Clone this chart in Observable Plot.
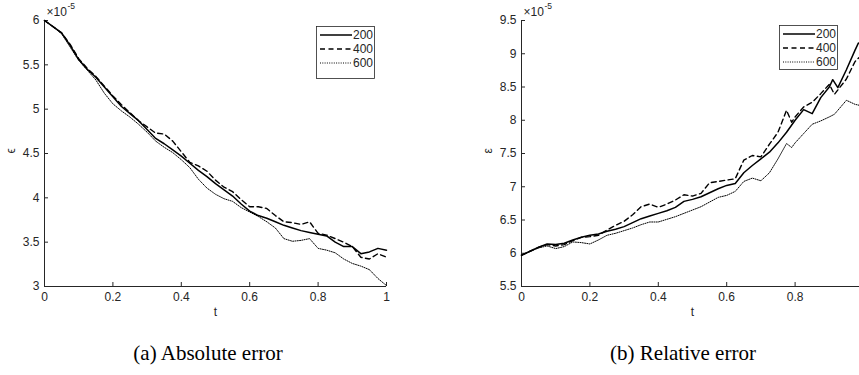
<!DOCTYPE html>
<html><head><meta charset="utf-8">
<script src="https://cdn.jsdelivr.net/npm/d3@7"></script>
<script src="https://cdn.jsdelivr.net/npm/@observablehq/plot@0.6"></script>
<style>
html,body{margin:0;padding:0;background:#fff;overflow:hidden;}
#wrap{position:relative;width:859px;height:375px;overflow:hidden;background:#fff;}
.panel{position:absolute;top:0;}
.cap{position:absolute;top:341px;font-family:"Liberation Serif","Times New Roman",serif;font-size:21px;line-height:24px;color:#000;white-space:nowrap;transform:translateX(-50%);}
</style></head><body><div id="wrap"></div>
<script>
// ---------------- data ----------------
const seriesNames = ["200", "400", "600"];
const xTicks = [0, 0.2, 0.4, 0.6, 0.8, 1];
const absXLabels = [0, 0.2, 0.4, 0.6, 0.8, 1];
const relXLabels = [0, 0.2, 0.4, 0.6, 0.8];   // the "1" label falls outside the picture
const absYTicks = [3, 3.5, 4, 4.5, 5, 5.5, 6];
const relYTicks = [5.5, 6, 6.5, 7, 7.5, 8, 8.5, 9, 9.5];
const captions = ["(a) Absolute error", "(b) Relative error"];

const absT = [0,0.025,0.05,0.075,0.1,0.125,0.15,0.175,0.2,0.225,0.25,0.275,0.3,0.325,0.35,0.375,0.4,0.425,0.45,0.475,0.5,0.525,0.55,0.575,0.6,0.625,0.65,0.675,0.7,0.725,0.75,0.775,0.8,0.825,0.85,0.875,0.9,0.925,0.95,0.975,1.0];
const abs200 = [6.00,5.93,5.86,5.72,5.56,5.45,5.36,5.25,5.14,5.03,4.95,4.87,4.77,4.67,4.61,4.54,4.47,4.39,4.31,4.24,4.16,4.09,4.02,3.93,3.85,3.80,3.77,3.73,3.69,3.66,3.63,3.61,3.59,3.57,3.50,3.45,3.45,3.37,3.39,3.43,3.41];
const abs400 = [6.00,5.93,5.86,5.73,5.57,5.46,5.37,5.26,5.15,5.05,4.96,4.87,4.80,4.73,4.72,4.64,4.52,4.40,4.36,4.30,4.20,4.12,4.07,3.98,3.90,3.90,3.88,3.80,3.73,3.72,3.70,3.73,3.60,3.58,3.54,3.50,3.45,3.33,3.31,3.37,3.33];
const abs600 = [6.00,5.93,5.85,5.70,5.55,5.44,5.33,5.18,5.06,4.98,4.91,4.83,4.74,4.64,4.57,4.51,4.43,4.34,4.21,4.11,4.04,3.99,3.96,3.89,3.84,3.79,3.73,3.66,3.54,3.51,3.52,3.54,3.43,3.41,3.38,3.31,3.26,3.23,3.19,3.09,3.01];

const rel200T = [0,0.025,0.05,0.075,0.1,0.125,0.15,0.175,0.2,0.225,0.25,0.275,0.3,0.325,0.35,0.375,0.4,0.425,0.45,0.475,0.5,0.525,0.55,0.575,0.6,0.625,0.65,0.675,0.7,0.725,0.75,0.775,0.8,0.825,0.85,0.875,0.9,0.91,0.925,0.95,0.975,0.985,1.0];
const rel200 = [5.97,6.03,6.09,6.14,6.13,6.15,6.20,6.24,6.27,6.29,6.33,6.36,6.40,6.46,6.52,6.56,6.60,6.64,6.69,6.78,6.81,6.85,6.91,6.97,7.02,7.05,7.21,7.32,7.42,7.52,7.66,7.82,8.00,8.16,8.10,8.34,8.50,8.61,8.49,8.76,9.05,9.16,9.15];
const rel400T = [0,0.025,0.05,0.075,0.1,0.125,0.15,0.175,0.2,0.225,0.25,0.275,0.3,0.325,0.35,0.375,0.4,0.425,0.45,0.475,0.5,0.525,0.55,0.575,0.6,0.625,0.65,0.675,0.7,0.725,0.75,0.775,0.79,0.8,0.825,0.85,0.875,0.9,0.915,0.95,0.975,1.0];
const rel400 = [5.97,6.03,6.09,6.13,6.11,6.13,6.19,6.24,6.25,6.27,6.35,6.42,6.48,6.58,6.70,6.74,6.69,6.74,6.80,6.88,6.86,6.90,7.06,7.08,7.10,7.12,7.40,7.47,7.45,7.64,7.82,8.15,7.97,8.05,8.20,8.27,8.40,8.54,8.39,8.62,8.88,9.01];
const rel600T = rel400T;
const rel600 = [5.97,6.03,6.08,6.11,6.07,6.10,6.17,6.16,6.14,6.20,6.27,6.30,6.34,6.38,6.43,6.47,6.47,6.51,6.55,6.60,6.65,6.70,6.77,6.84,6.87,6.93,7.08,7.13,7.09,7.21,7.42,7.65,7.59,7.66,7.80,7.94,7.99,8.05,8.09,8.30,8.24,8.21];

// ---------------- drawing ----------------
const FONT = "'Liberation Sans', Arial, Helvetica, sans-serif";
const INK = "#262626";
const styles = [
  {strokeWidth: 1.5, strokeDasharray: null},
  {strokeWidth: 1.4, strokeDasharray: "5,3.5"},
  {strokeWidth: 1.0, strokeDasharray: "1,1.3"}
];
const W = 430, H = 330, ML = 44, MR = 44, MT = 20, MB = 44;

function toRows(ts, vs) { return ts.map((t, i) => ({t, v: vs[i]})); }

function panel(tsList, vsList, yTicks, xLabels, ylabel, leftPx) {
  const y0 = yTicks[0], y1 = yTicks[yTicks.length - 1];
  const tickY = (y1 - y0) * 4 / (H - MT - MB);
  const tickX = 4 / (W - ML - MR);
  const lines = tsList.map((ts, i) => Plot.line(toRows(ts, vsList[i]), {
    x: "t", y: "v", stroke: "black", strokeWidth: styles[i].strokeWidth,
    strokeDasharray: styles[i].strokeDasharray, curve: "linear"
  }));
  const plot = Plot.plot({
    width: W, height: H, marginLeft: ML, marginRight: MR, marginTop: MT, marginBottom: MB,
    x: {domain: [0, 1]},
    y: {domain: [y0, y1]},
    style: {fontFamily: FONT, fontSize: "12px", color: INK, background: "white", overflow: "visible"},
    marks: [
      Plot.ruleX(xTicks, {x: d => d, y1: y0, y2: y0 + tickY, stroke: INK}),
      Plot.ruleY(yTicks, {y: d => d, x1: 0, x2: tickX, stroke: INK}),
      Plot.axisX({ticks: xLabels, tickSize: 0, tickPadding: 6, tickFormat: d3.format("~g"), label: null, fontSize: 12}),
      Plot.axisY({ticks: yTicks, tickSize: 0, tickPadding: 5, tickFormat: d3.format("~g"), label: null, fontSize: 12}),
      Plot.ruleX([0], {stroke: INK}),
      Plot.ruleY([y0], {stroke: INK}),
      ...lines,
      Plot.text(["t"], {frameAnchor: "bottom", dy: 29, fontSize: 12, fill: INK}),
      Plot.text([ylabel], {frameAnchor: "left", dx: -33, rotate: -90, fontSize: 12, fill: INK}),
      Plot.text(["\u00d710"], {frameAnchor: "top-left", dx: 2, dy: -5, textAnchor: "start", lineAnchor: "bottom", fontSize: 12, fill: INK}),
      Plot.text(["-5"], {frameAnchor: "top-left", dx: 23, dy: -12, textAnchor: "start", lineAnchor: "bottom", fontSize: 8.5, fill: INK})
    ]
  });
  plot.classList.add("panel");
  plot.style.left = leftPx + "px";
  return plot;
}

function legend(svg, bx, by, bh) {
  const g = d3.select(svg).append("g").attr("text-anchor", "start");
  const bw = 58;
  g.append("rect").attr("x", bx + 0.5).attr("y", by + 0.5).attr("width", bw).attr("height", bh)
    .attr("fill", "white").attr("stroke", INK).attr("stroke-width", 0.8);
  seriesNames.forEach((name, i) => {
    const yy = by + 9 + i * 14;
    g.append("line").attr("x1", bx + 4).attr("x2", bx + 36).attr("y1", yy).attr("y2", yy)
      .attr("stroke", "black").attr("stroke-width", styles[i].strokeWidth)
      .attr("stroke-dasharray", styles[i].strokeDasharray);
    g.append("text").attr("x", bx + 37).attr("y", yy).attr("dy", "0.36em")
      .attr("text-anchor", "start")
      .attr("font-family", FONT).attr("font-size", 12).attr("fill", INK).text(name);
  });
}

const wrap = document.getElementById("wrap");
const p1 = panel([absT, absT, absT], [abs200, abs400, abs600], absYTicks, absXLabels, "\u03f5", 0);
const p2 = panel([rel200T, rel400T, rel600T], [rel200, rel400, rel600], relYTicks, relXLabels, "\u03b5", 477);
wrap.appendChild(p1);
wrap.appendChild(p2);
legend(p1, 316, 26, 52);
legend(p2, 302, 25, 44);

[[captions[0], 208], [captions[1], 683]].forEach(([txt, cx]) => {
  const d = document.createElement("div");
  d.className = "cap";
  d.style.left = cx + "px";
  d.textContent = txt;
  wrap.appendChild(d);
});
</script></body></html>
